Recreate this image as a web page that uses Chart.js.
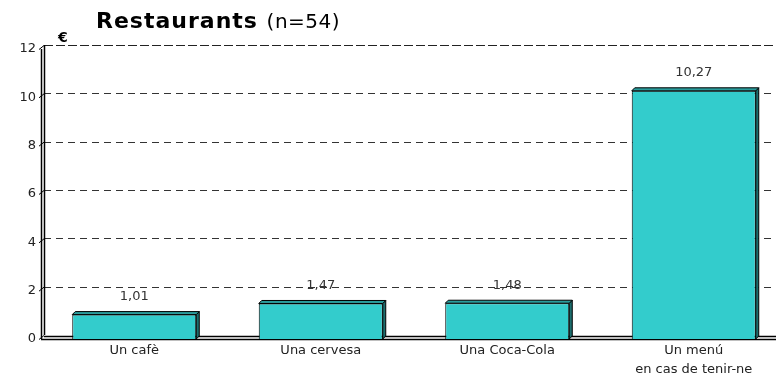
<!DOCTYPE html>
<html>
<head>
<meta charset="utf-8">
<script src="https://cdn.jsdelivr.net/npm/chart.js@4"></script>
<style>
    body { margin: 0; width: 776px; height: 376px; overflow: hidden; background: #fff; font-family: "DejaVu Sans", Verdana, sans-serif; }
    #wrap { position: relative; width: 790px; height: 376px; }
    #title { position: absolute; left: 96px; top: 10px; font-size: 22px; line-height: 22px; font-weight: bold; letter-spacing: 1px; color: #000; white-space: nowrap; }
    #title span { font-size: 20px; font-weight: normal; letter-spacing: 0.5px; }
    #unit { position: absolute; left: 58px; top: 30px; font-size: 14px; line-height: 14px; font-weight: bold; }
</style>
</head>
<body>
<div id="wrap">
    <canvas id="restChart" width="790" height="376"></canvas>
    <div id="title">Restaurants <span>(n=54)</span></div>
    <div id="unit">€</div>
</div>
<script>
    // Chart data
    const categories = ['Un cafè', 'Una cervesa', 'Una Coca-Cola', ['Un menú', 'en cas de tenir-ne']];
    const prices = [1.01, 1.47, 1.48, 10.27];
    const yTicks = [0, 2, 4, 6, 8, 10, 12];

    const DX = 3, DY = 4;   // depth of the back wall
    const BD = 3;           // depth of the bars

    // Back wall, floor and dashed gridlines for the 3D look
    const wallPlugin = {
        id: 'wall',
        beforeDatasetsDraw(chart) {
            const ctx = chart.ctx;
            const area = chart.chartArea;
            const y = chart.scales.y;
            ctx.save();
            ctx.strokeStyle = '#000';
            ctx.lineWidth = 1;

            // dashed gridlines on back wall
            yTicks.forEach(v => {
                if (v === 0) return;
                const py = Math.round(y.getPixelForValue(v) - DY) + 0.5;
                ctx.setLineDash(v === 12 ? [9, 3] : [7, 5]);
                ctx.strokeStyle = v === 12 ? '#222' : '#333';
                ctx.beginPath();
                ctx.moveTo(area.left + DX, py);
                ctx.lineTo(area.right + DX, py);
                ctx.stroke();
            });
            ctx.setLineDash([]);
            ctx.strokeStyle = '#000';

            // slanted tick marks
            yTicks.forEach(v => {
                const py = y.getPixelForValue(v);
                ctx.beginPath();
                ctx.moveTo(area.left - 2, py + 0.5);
                ctx.lineTo(area.left + DX, py - DY + 0.5);
                ctx.stroke();
            });

            // y axis wall (double line)
            ctx.lineWidth = 1.5;
            ctx.beginPath();
            ctx.moveTo(area.left + 0.5, area.top);
            ctx.lineTo(area.left + 0.5, area.bottom);
            ctx.moveTo(area.left + DX + 0.5, area.top - DY);
            ctx.lineTo(area.left + DX + 0.5, area.bottom - DY);
            ctx.stroke();

            // floor (double line)
            ctx.beginPath();
            ctx.moveTo(area.left, area.bottom + 0.5);
            ctx.lineTo(area.right + DX, area.bottom + 0.5);
            ctx.moveTo(area.left + DX, area.bottom - DY + 1.5);
            ctx.lineTo(area.right + DX, area.bottom - DY + 1.5);
            ctx.stroke();
            ctx.restore();
        },
        afterDatasetsDraw(chart) {
            const ctx = chart.ctx;
            const meta = chart.getDatasetMeta(0);
            ctx.save();
            ctx.strokeStyle = '#000';
            ctx.lineWidth = 1;
            meta.data.forEach((bar, i) => {
                const left = bar.x - bar.width / 2;
                const right = bar.x + bar.width / 2;
                const top = bar.y;
                const base = bar.base;

                // right side
                ctx.fillStyle = '#1c6e6e';
                ctx.beginPath();
                ctx.moveTo(right, top);
                ctx.lineTo(right + BD, top - BD);
                ctx.lineTo(right + BD, base - BD);
                ctx.lineTo(right, base);
                ctx.closePath();
                ctx.fill();
                ctx.stroke();

                // top face
                ctx.fillStyle = '#2a9c9c';
                ctx.beginPath();
                ctx.moveTo(left, top);
                ctx.lineTo(left + BD, top - BD);
                ctx.lineTo(right + BD, top - BD);
                ctx.lineTo(right, top);
                ctx.closePath();
                ctx.fill();
                ctx.stroke();

                // value label
                ctx.fillStyle = '#333';
                ctx.font = '13px "DejaVu Sans", Verdana, sans-serif';
                ctx.textAlign = 'center';
                ctx.textBaseline = 'middle';
                ctx.fillText(prices[i].toFixed(2).replace('.', ','), bar.x, top - 18);
            });
            ctx.restore();
        }
    };

    const ctx = document.getElementById('restChart').getContext('2d');
    new Chart(ctx, {
        type: 'bar',
        data: {
            labels: categories,
            datasets: [{
                label: 'Restaurants',
                data: prices,
                backgroundColor: '#33CCCC',
                borderColor: '#000',
                borderWidth: 1,
                barPercentage: 0.665,
                categoryPercentage: 1
            }]
        },
        options: {
            responsive: false,
            animation: false,
            layout: { padding: { top: 49, right: 3, left: 0, bottom: 0 } },
            plugins: {
                legend: { display: false },
                tooltip: { enabled: false }
            },
            scales: {
                x: {
                    grid: { display: false, drawTicks: false },
                    border: { display: false },
                    ticks: {
                        color: '#222',
                        padding: 3,
                        maxRotation: 0,
                        font: { family: '"DejaVu Sans", Verdana, sans-serif', size: 13, lineHeight: 1.4 }
                    },
                    afterFit: scale => { scale.height = 37; }
                },
                y: {
                    min: 0,
                    max: 12,
                    grid: { display: false, drawTicks: false },
                    border: { display: false },
                    ticks: {
                        stepSize: 2,
                        color: '#222',
                        padding: 5,
                        font: { family: '"DejaVu Sans", Verdana, sans-serif', size: 13 }
                    },
                    afterFit: scale => { scale.width = 41; }
                }
            }
        },
        plugins: [wallPlugin]
    });
</script>
</body>
</html>
